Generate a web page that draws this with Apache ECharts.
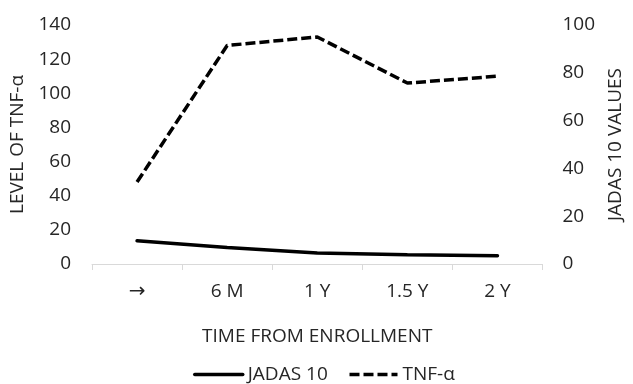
<!DOCTYPE html>
<html>
<head>
<meta charset="utf-8">
<script src="https://cdn.jsdelivr.net/npm/echarts@6/dist/echarts.min.js"></script>
<style>
html,body{margin:0;padding:0;background:#fff;}
#chart{width:633px;height:384px;}
</style>
</head>
<body>
<div id="chart"></div>
<script>
const categories = ['→', '6 M', '1 Y', '1.5 Y', '2 Y'];
const tnfAlpha = [48, 128, 133, 106, 110];
const jadas10 = [9.7, 6.9, 4.6, 3.9, 3.5];
const leftTicks = [0, 140, 20];
const rightTicks = [0, 100, 20];

const FONT = 'Open Sans';
const TXT = '#262626';
const FS = 19;

const chart = echarts.init(document.getElementById('chart'), null, {renderer: 'canvas'});
chart.setOption({
  backgroundColor: '#ffffff',
  animation: false,
  textStyle: {fontFamily: FONT},
  grid: {left: 92, right: 82, top: 25, bottom: 120, containLabel: false},
  legend: {
    left: 188, top: 360,
    itemWidth: 48, itemHeight: 18, itemGap: 20,
    itemStyle: {opacity: 0},
    lineStyle: {width: 3.5},
    textStyle: {fontFamily: FONT, fontSize: FS, color: TXT},
    data: ['JADAS 10', 'TNF-α']
  },
  xAxis: {
    type: 'category',
    data: categories,
    boundaryGap: true,
    name: 'TIME FROM ENROLLMENT',
    nameLocation: 'middle',
    nameGap: 63,
    nameTextStyle: {fontFamily: FONT, fontSize: FS, color: TXT},
    axisLine: {show: true, lineStyle: {color: '#d9d9d9', width: 1}},
    axisTick: {show: true, interval: 0, length: 6, lineStyle: {color: '#d9d9d9'}},
    axisLabel: {
      interval: 0, hideOverlap: false,
      fontFamily: FONT, fontSize: FS, color: TXT, margin: 18,
      formatter: function (v) { return v === '→' ? '{arr|→}' : v; },
      rich: {arr: {fontFamily: 'DejaVu Sans', fontSize: 20, color: TXT}}
    },
    splitLine: {show: false}
  },
  yAxis: [
    {
      type: 'value', position: 'left',
      min: leftTicks[0], max: leftTicks[1], interval: leftTicks[2],
      name: 'LEVEL OF TNF-α',
      nameLocation: 'middle',
      nameGap: 62,
      nameTextStyle: {fontFamily: FONT, fontSize: FS, color: TXT},
      axisLine: {show: false}, axisTick: {show: false},
      axisLabel: {fontFamily: FONT, fontSize: FS, color: TXT, margin: 21},
      splitLine: {show: false}
    },
    {
      type: 'value', position: 'right',
      min: rightTicks[0], max: rightTicks[1], interval: rightTicks[2],
      name: 'JADAS 10 VALUES',
      nameLocation: 'middle',
      nameGap: 62,
      nameTextStyle: {fontFamily: FONT, fontSize: FS, color: TXT},
      axisLine: {show: false}, axisTick: {show: false},
      axisLabel: {fontFamily: FONT, fontSize: FS, color: TXT, margin: 20},
      splitLine: {show: false}
    }
  ],
  series: [
    {
      name: 'JADAS 10', type: 'line', yAxisIndex: 1,
      data: jadas10, symbol: 'none',
      lineStyle: {color: '#000000', width: 3.5, cap: 'round'},
      itemStyle: {color: '#000000'}
    },
    {
      name: 'TNF-α', type: 'line', yAxisIndex: 0,
      data: tnfAlpha, symbol: 'none',
      lineStyle: {color: '#000000', width: 3.5, type: [10, 4]},
      itemStyle: {color: '#000000'}
    }
  ]
});
</script>
</body>
</html>
